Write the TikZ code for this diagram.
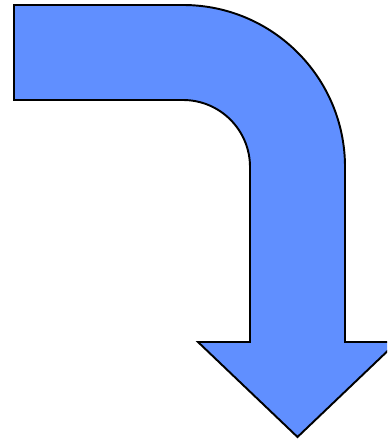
\documentclass[tikz,border=0pt]{standalone}
\definecolor{arrowblue}{RGB}{96,143,255}
\usepackage{tikz}
\usetikzlibrary{calc}

\begin{document}
\begin{tikzpicture}[
    x=0.02cm, y=-0.02cm,
    bentarrow/.style={fill=arrowblue, draw=black, line width=1.1pt, line join=miter},
  ]
    \clip (0,0) rectangle (387,442);
    \coordinate (tl) at (14,5);
    \coordinate (bl) at (14,100);
    \coordinate (tip) at (297.5,437);
    \draw[bentarrow] (tl) -- (183,5) arc (-90:0:162) -- (345,342) -- (397,342)
      -- (tip) -- (198,342) -- (250,342) -- (250,167) arc (0:-90:67) -- (bl) -- cycle;
  \end{tikzpicture}
\end{document}
